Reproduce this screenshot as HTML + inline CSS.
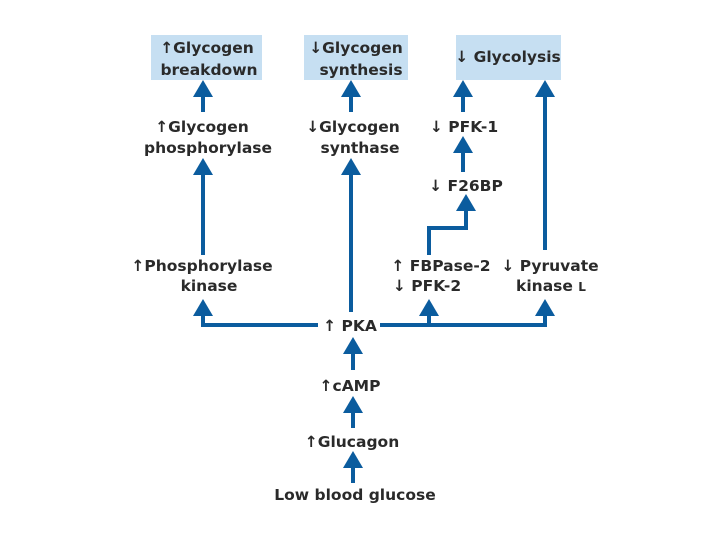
<!DOCTYPE html>
<html><head><style>
html,body{margin:0;padding:0;background:#fff;}
svg{display:block;}
text{font-family:"DejaVu Sans","Liberation Sans",sans-serif;font-weight:bold;font-size:15.5px;fill:#2a2a2a;text-anchor:middle;}
</style></head><body>
<svg width="720" height="540" viewBox="0 0 720 540">
<g fill="#c6dff2">
<rect x="151" y="35" width="111" height="45"/>
<rect x="304" y="35" width="104" height="45"/>
<rect x="456" y="35" width="105" height="45"/>
</g>
<g stroke="#0b5c9e" stroke-width="4" fill="none">
<line x1="203" y1="112" x2="203" y2="92"/>
<line x1="351" y1="112" x2="351" y2="92"/>
<line x1="463" y1="112" x2="463" y2="92"/>
<line x1="545" y1="250" x2="545" y2="92"/>
<line x1="203" y1="255" x2="203" y2="170"/>
<line x1="351" y1="312" x2="351" y2="170"/>
<line x1="463" y1="172" x2="463" y2="148"/>
<polyline points="429,255 429,228 466,228 466,206"/>
<polyline points="318,325 203,325 203,312"/>
<polyline points="380,325 545,325 545,312"/>
<line x1="429" y1="325" x2="429" y2="312"/>
<line x1="353" y1="370" x2="353" y2="350"/>
<line x1="353" y1="428" x2="353" y2="408"/>
<line x1="353" y1="483" x2="353" y2="463"/>
</g>
<g fill="#0b5c9e">
<polygon points="203,80 193,97 213,97"/>
<polygon points="351,80 341,97 361,97"/>
<polygon points="463,80 453,97 473,97"/>
<polygon points="545,80 535,97 555,97"/>
<polygon points="203,158 193,175 213,175"/>
<polygon points="351,158 341,175 361,175"/>
<polygon points="463,136 453,153 473,153"/>
<polygon points="466,194 456,211 476,211"/>
<polygon points="203,299 193,316 213,316"/>
<polygon points="429,299 419,316 439,316"/>
<polygon points="545,299 535,316 555,316"/>
<polygon points="353,337 343,354 363,354"/>
<polygon points="353,396 343,413 363,413"/>
<polygon points="353,451 343,468 363,468"/>
</g>
<text x="207" y="53">↑Glycogen</text>
<text x="209" y="75">breakdown</text>
<text x="356" y="53">↓Glycogen</text>
<text x="361" y="75">synthesis</text>
<text x="508" y="62">↓ Glycolysis</text>
<text x="202" y="132">↑Glycogen</text>
<text x="208" y="153">phosphorylase</text>
<text x="353" y="132">↓Glycogen</text>
<text x="360" y="153">synthase</text>
<text x="464" y="132">↓ PFK-1</text>
<text x="466" y="191">↓ F26BP</text>
<text x="202" y="271">↑Phosphorylase</text>
<text x="209" y="291">kinase</text>
<text x="441" y="271">↑ FBPase-2</text>
<text x="427" y="291">↓ PFK-2</text>
<text x="550" y="271">↓ Pyruvate</text>
<text x="551" y="291">kinase <tspan font-size="12">L</tspan></text>
<text x="350" y="331">↑ PKA</text>
<text x="350" y="391">↑cAMP</text>
<text x="352" y="447">↑Glucagon</text>
<text x="355" y="500">Low blood glucose</text>
</svg>
</body></html>
